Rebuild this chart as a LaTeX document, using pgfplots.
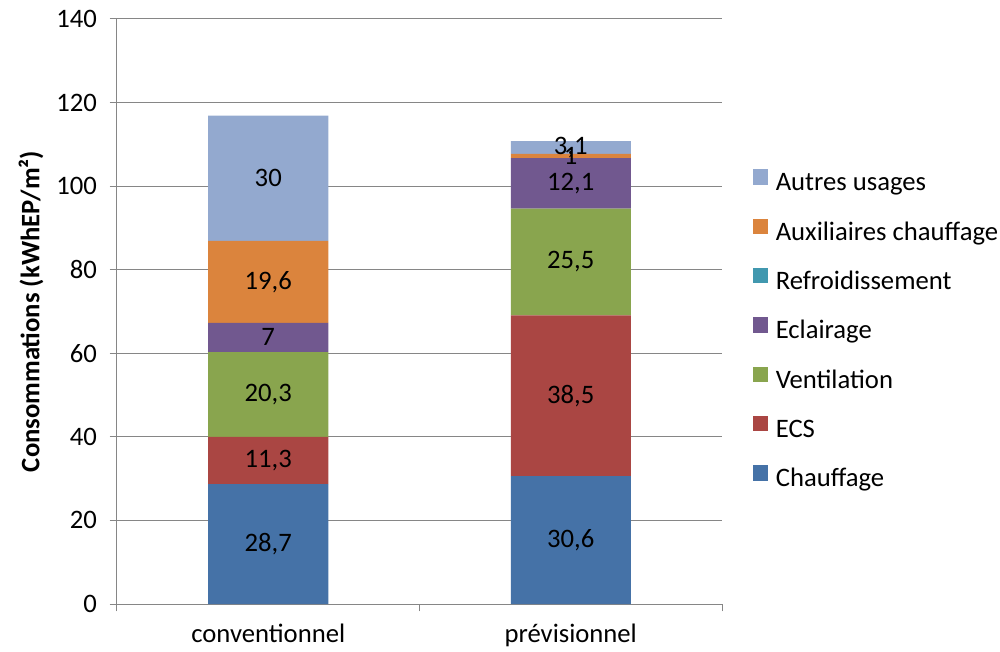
\documentclass[border=0pt]{standalone}
\usepackage{fontspec}
\setmainfont{Carlito}
\usepackage{pgfplots}
\pgfplotsset{compat=1.18}
\definecolor{cChauf}{HTML}{4572A7}
\definecolor{cECS}{HTML}{AA4643}
\definecolor{cVent}{HTML}{89A54E}
\definecolor{cEcl}{HTML}{71588F}
\definecolor{cRef}{HTML}{4198AF}
\definecolor{cAux}{HTML}{DB843D}
\definecolor{cAut}{HTML}{93A9CF}
\definecolor{axgray}{HTML}{868686}
\newcommand{\fs}{\fontsize{20}{24}\selectfont}
\begin{document}
\begin{tikzpicture}
\begin{axis}[
  scale only axis, width=453.75pt, height=438.75pt,
  ybar stacked, bar width=90pt,
  xmin=-0.5, xmax=1.5, ymin=0, ymax=140,
  xtick={-0.5,0.5,1.5},
  xticklabels={conventionnel,prévisionnel,},
  x tick label as interval,
  ytick={0,20,40,60,80,100,120,140},
  axis x line*=bottom, axis y line*=left,
  axis line style={draw=axgray, line width=0.75pt},
  ymajorgrids, grid style={draw=axgray, line width=0.75pt},
  tick align=outside, major tick length=5.5pt,
  tick style={draw=axgray, line width=0.75pt},
  ticklabel style={font=\fs},
  /pgf/number format/assume math mode=true,
  yticklabel style={anchor=east, xshift=-6pt},
  xticklabel style={anchor=base, yshift=-23pt},
  every axis y label/.style={at={(rel axis cs:-0.142,0.5)}, rotate=90, anchor=center, font=\bfseries\fs},
  ylabel={Consommations (kWhEP/m²)},
  reverse legend,
  legend cell align=left,
  legend style={at={(rel axis cs:1.051,0.466)}, anchor=west, draw=none, fill=none, inner sep=0pt,
    row sep=16pt, font=\fs, nodes={inner sep=0pt, text height=15pt, text depth=5pt}},
  legend image code/.code={\fill[#1] (0pt,-0.5pt) rectangle (11.5pt,11pt); \path (17pt,0pt);},
  lbl/.style={
    visualization depends on=rawy \as \rawy,
    nodes near coords={\pgfmathprintnumber[use comma,fixed,precision=1,assume math mode=true]{\rawy}},
    every node near coord/.append style={font=\fs, text=black, anchor=center},
  },
]
\addplot[fill=cChauf, draw=none, lbl] coordinates {(0,28.7) (1,30.6)};
\addlegendentry{Chauffage}
\addplot[fill=cECS, draw=none, lbl] coordinates {(0,11.3) (1,38.5)};
\addlegendentry{ECS}
\addplot[fill=cVent, draw=none, lbl] coordinates {(0,20.3) (1,25.5)};
\addlegendentry{Ventilation}
\addplot[fill=cEcl, draw=none, lbl] coordinates {(0,7) (1,12.1)};
\addlegendentry{Eclairage}
\addplot[fill=cRef, draw=none] coordinates {(0,0) (1,0)};
\addlegendentry{Refroidissement}
\addplot[fill=cAux, draw=none, lbl] coordinates {(0,19.6) (1,1)};
\addlegendentry{Auxiliaires chauffage}
\addplot[fill=cAut, draw=none, lbl] coordinates {(0,30) (1,3.1)};
\addlegendentry{Autres usages}
\end{axis}
\pgfresetboundingbox
\path[use as bounding box] ([xshift=-87.75pt,yshift=-35.25pt]current axis.south west) rectangle ([xshift=208.5pt,yshift=14.25pt]current axis.north east);
\end{tikzpicture}
\end{document}
